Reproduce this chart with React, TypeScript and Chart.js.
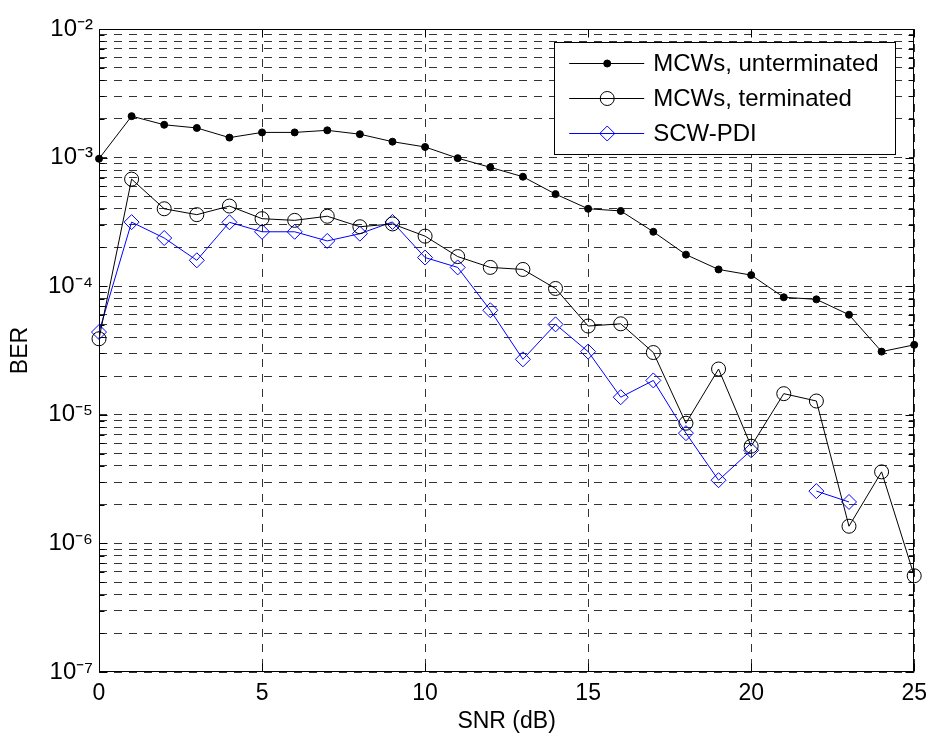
import { useEffect, useRef } from 'react';
import { Chart, registerables } from 'chart.js';
import { drawPoint } from 'chart.js/helpers';

Chart.register(...registerables);

// ---- data ----
const snr = [0, 1, 2, 3, 4, 5, 6, 7, 8, 9, 10, 11, 12, 13, 14, 15, 16, 17, 18, 19, 20, 21, 22, 23, 24, 25];
const unterminated = [9.8e-4, 2.1e-3, 1.8e-3, 1.7e-3, 1.43e-3, 1.57e-3, 1.57e-3, 1.63e-3, 1.52e-3, 1.33e-3, 1.21e-3, 9.9e-4, 8.4e-4, 7.1e-4, 5.2e-4, 4.0e-4, 3.85e-4, 2.65e-4, 1.76e-4, 1.35e-4, 1.22e-4, 8.2e-5, 7.9e-5, 6.0e-5, 3.1e-5, 3.5e-5];
const terminated = [3.9e-5, 6.8e-4, 4.0e-4, 3.6e-4, 4.2e-4, 3.35e-4, 3.25e-4, 3.5e-4, 2.9e-4, 3.05e-4, 2.45e-4, 1.7e-4, 1.4e-4, 1.35e-4, 9.6e-5, 4.9e-5, 5.1e-5, 3.05e-5, 8.6e-6, 2.27e-5, 5.7e-6, 1.46e-5, 1.28e-5, 1.36e-6, 3.6e-6, 5.6e-7];
const scwPdi = [4.4e-5, 3.15e-4, 2.37e-4, 1.59e-4, 3.14e-4, 2.65e-4, 2.65e-4, 2.25e-4, 2.56e-4, 3.16e-4, 1.67e-4, 1.4e-4, 6.5e-5, 2.7e-5, 5.05e-5, 3.1e-5, 1.37e-5, 1.85e-5, 7.2e-6, 3.1e-6, 5.3e-6, null, 2.55e-6, 2.1e-6, null, null];
const seriesLabels = ['MCWs, unterminated', 'MCWs, terminated', 'SCW-PDI'];

const xTicks = [0, 5, 10, 15, 20, 25];
const yDecades = [-7, -6, -5, -4, -3, -2];
const yTickLabels = ['10⁻⁷', '10⁻⁶', '10⁻⁵', '10⁻⁴', '10⁻³', '10⁻²'];
const xTitle = 'SNR (dB)';
const yTitle = 'BER';

const FONT = "'Liberation Sans', Arial, Helvetica, sans-serif";

const toPoints = (ys: (number | null)[]) => snr.map((x, i) => ({ x, y: ys[i] }));

const frameBox = {
  id: 'frameBox',
  beforeDatasetsDraw(chart: any) {
    const { ctx, chartArea: a, scales } = chart;
    ctx.save();
    ctx.strokeStyle = '#000';
    ctx.lineWidth = 1;
    ctx.setLineDash([]);
    ctx.beginPath();
    const L = Math.round(a.left) + 0.5;
    const R = Math.round(a.right) - 0.5;
    const T = Math.round(a.top) + 0.5;
    const B = Math.round(a.bottom) - 0.5;
    scales.x.ticks.forEach((t: any) => {
      const px = Math.round(scales.x.getPixelForValue(t.value)) + 0.5;
      ctx.moveTo(px, B); ctx.lineTo(px, B - 8);
      ctx.moveTo(px, T); ctx.lineTo(px, T + 8);
    });
    scales.y.ticks.forEach((t: any) => {
      const py = Math.round(scales.y.getPixelForValue(t.value)) + 0.5;
      const len = t.label ? 8 : 5;
      ctx.moveTo(L, py); ctx.lineTo(L + len, py);
      ctx.moveTo(R, py); ctx.lineTo(R - len, py);
    });
    ctx.stroke();
    ctx.strokeRect(L, T, R - L, B - T);
    ctx.restore();
  },
};

const boxLegend = {
  id: 'boxLegend',
  afterDraw(chart: any) {
    const { ctx, chartArea: a } = chart;
    const right = a.right - 19;
    const left = right - 341;
    const top = a.top + 13;
    const height = 112;
    ctx.save();
    ctx.fillStyle = '#fff';
    ctx.fillRect(left, top, right - left, height);
    ctx.strokeStyle = '#000';
    ctx.lineWidth = 1;
    ctx.strokeRect(Math.round(left) + 0.5, Math.round(top) + 0.5, Math.round(right - left), height);
    ctx.font = `24px ${FONT}`;
    ctx.textBaseline = 'middle';
    ctx.textAlign = 'left';
    chart.data.datasets.forEach((ds: any, i: number) => {
      const y = Math.round(top + 21 + i * 35) + 0.5;
      ctx.strokeStyle = ds.borderColor;
      ctx.lineWidth = 1;
      ctx.beginPath();
      ctx.moveTo(left + 15, y);
      ctx.lineTo(left + 90, y);
      ctx.stroke();
      ctx.fillStyle = ds.pointBackgroundColor;
      ctx.strokeStyle = ds.pointBorderColor;
      drawPoint(ctx, { pointStyle: ds.pointStyle, radius: ds.pointRadius, rotation: 0, borderWidth: 1 }, left + 53, y);
      ctx.fillStyle = '#000';
      ctx.fillText(ds.label, left + 99, y + 1);
    });
    ctx.restore();
  },
};

export default function App() {
  const ref = useRef<HTMLCanvasElement | null>(null);

  useEffect(() => {
    if (!ref.current) return;
    const chart = new Chart(ref.current, {
      type: 'line',
      data: {
        datasets: [
          {
            label: seriesLabels[0],
            data: toPoints(unterminated),
            borderColor: '#000',
            borderWidth: 1,
            pointStyle: 'circle',
            pointRadius: 3.5,
            pointBackgroundColor: '#000',
            pointBorderColor: '#000',
            pointBorderWidth: 1,
            tension: 0,
            clip: false,
          },
          {
            label: seriesLabels[1],
            data: toPoints(terminated),
            borderColor: '#000',
            borderWidth: 1,
            pointStyle: 'circle',
            pointRadius: 7,
            pointBackgroundColor: 'rgba(0,0,0,0)',
            pointBorderColor: '#000',
            pointBorderWidth: 1,
            tension: 0,
            clip: false,
          },
          {
            label: seriesLabels[2],
            data: toPoints(scwPdi),
            borderColor: '#0000ff',
            borderWidth: 1,
            pointStyle: 'rectRot',
            pointRadius: 7.5,
            pointBackgroundColor: 'rgba(0,0,0,0)',
            pointBorderColor: '#0000ff',
            pointBorderWidth: 1,
            tension: 0,
            spanGaps: false,
            clip: false,
          },
        ],
      },
      options: {
        animation: false,
        responsive: false,
        maintainAspectRatio: false,
        events: [],
        layout: { padding: { top: 29, right: 18, left: 0, bottom: 0 } },
        plugins: {
          legend: { display: false },
          tooltip: { enabled: false },
        },
        scales: {
          x: {
            type: 'linear',
            min: 0,
            max: 25,
            afterBuildTicks: (scale: any) => {
              scale.ticks = xTicks.map((v) => ({ value: v }));
            },
            afterFit: (scale: any) => {
              scale.height = 68;
            },
            ticks: {
              autoSkip: false,
              maxRotation: 0,
              padding: 8,
              color: '#000',
              font: { family: FONT, size: 23 },
              callback: (v: any) => String(v),
            },
            grid: { color: '#333333', lineWidth: 1, drawTicks: false },
            border: { display: false, dash: [8, 7] },
            title: {
              display: true,
              text: xTitle,
              color: '#000',
              font: { family: FONT, size: 23 },
              padding: { top: 0, bottom: 5 },
            },
          },
          y: {
            type: 'logarithmic',
            min: Math.pow(10, yDecades[0]),
            max: Math.pow(10, yDecades[yDecades.length - 1]),
            afterBuildTicks: (scale: any) => {
              const ticks: any[] = [];
              yDecades.forEach((d, di) => {
                for (let m = 1; m <= 9; m++) {
                  if (di === yDecades.length - 1 && m > 1) break;
                  ticks.push({ value: m * Math.pow(10, d) });
                }
              });
              scale.ticks = ticks;
            },
            afterFit: (scale: any) => {
              scale.width = 99;
            },
            ticks: {
              autoSkip: false,
              padding: 6,
              color: '#000',
              font: { family: FONT, size: 24 },
              callback: (v: any) => {
                const e = Math.round(Math.log10(v));
                const idx = yDecades.indexOf(e);
                if (idx >= 0 && Math.abs(v - Math.pow(10, e)) < Math.pow(10, e) * 1e-6) return yTickLabels[idx];
                return '';
              },
            },
            grid: { color: '#333333', lineWidth: 1, drawTicks: false },
            border: { display: false, dash: [8, 7] },
            title: {
              display: true,
              text: yTitle,
              color: '#000',
              font: { family: FONT, size: 23 },
              padding: { top: 7, bottom: 0 },
            },
          },
        },
      },
      plugins: [frameBox, boxLegend],
    } as any);
    return () => chart.destroy();
  }, []);

  return (
    <div style={{ position: 'fixed', left: 0, top: 0, width: 935, height: 740, background: '#fff' }}>
      <canvas ref={ref} width={935} height={740} style={{ width: 935, height: 740, display: 'block' }} />
    </div>
  );
}
